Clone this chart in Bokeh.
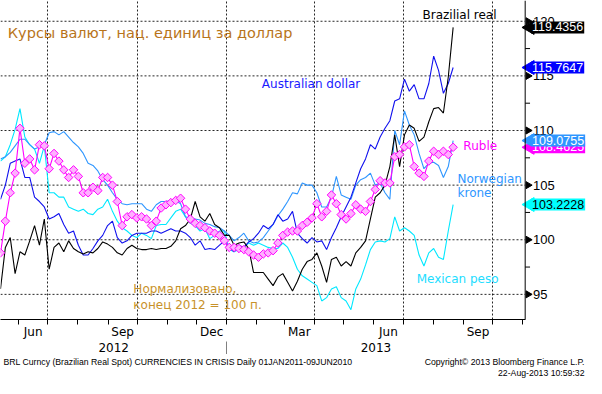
import math
import pandas as pd
from bokeh.plotting import figure
from bokeh.layouts import column
from bokeh.models import (Range1d, LinearAxis, FixedTicker, Grid, Label, Span,
                          ColumnDataSource, CustomJSTickFormatter)
from bokeh.core.properties import value
from bokeh.embed import file_html
from bokeh.resources import INLINE

FONT = "DejaVu Sans"
NUMFONT = "Liberation Sans"

# ---------------- data (normalised, end-2012 = 100) ----------------
start = "2012-05-13 12:00"
dates = pd.date_range(start, periods=94, freq="5D")

brl = [95.5, 99.3, 100.2, 96.9, 98.9, 98.6, 99.9, 101.3, 99.5, 101.9,
       97.3, 99.3, 99.7, 98.9, 99.9, 99.2, 98.9, 98.7, 98.9, 98.8,
       99.2, 99.8, 99.6, 99.3, 98.8, 98.6, 99.2, 99.5, 99.2, 99.1,
       99.1, 99.2, 99.1, 99.2, 99.2, 99.4, 99.9, 101.0, 101.3, 101.9,
       103.5, 102.1, 101.7, 102.4, 101.4, 101.1, 100.4, 100.4, 99.5, 99.7,
       99.8, 99.2, 97.0, 97.0, 97.0, 96.4, 95.8, 96.6, 96.9, 96.1,
       95.3, 96.2, 97.3, 98.0, 98.2, 98.8, 97.6, 96.1, 98.2, 98.4,
       97.6, 98.0, 97.6, 98.8, 99.3, 99.9, 101.9, 103.9, 104.3, 105.0,
       106.7, 109.6, 106.7, 109.6, 110.5, 110.2, 109.0, 109.4, 110.8, 112.0,
       112.1, 111.6, 114.9, 119.4356]

aud = [103.7, 105.0, 107.0, 107.2, 107.4, 105.7, 105.7, 103.9, 103.5, 103.0,
       101.9, 102.1, 102.4, 101.4, 100.6, 100.8, 99.5, 98.6, 98.6, 99.2,
       99.9, 100.4, 101.3, 101.7, 100.2, 99.7, 99.9, 100.4, 100.6, 100.6,
       100.6, 100.8, 100.8, 100.6, 100.8, 101.0, 100.8, 100.8, 100.6, 100.2,
       99.5, 99.9, 99.1, 99.2, 99.1, 99.5, 99.9, 99.3, 98.9, 99.5,
       99.3, 99.8, 100.1, 100.6, 101.3, 101.0, 101.4, 102.3, 101.7, 101.9,
       102.6, 100.6, 100.1, 99.7, 100.2, 99.8, 99.9, 99.1, 100.2, 101.1,
       102.1, 103.0, 103.9, 105.2, 106.5, 107.4, 108.7, 108.3, 109.4, 110.2,
       110.9, 112.7, 112.9, 114.7, 113.6, 114.2, 112.9, 112.9, 114.3, 116.8,
       115.5, 113.4, 114.3, 115.7647]

nok = [107.4, 107.6, 108.0, 108.6, 109.2, 109.2, 108.7, 108.3, 108.5, 108.7,
       109.8, 109.9, 109.6, 109.9, 109.4, 108.9, 108.5, 107.9, 107.0, 106.8,
       106.3, 105.5, 105.0, 104.3, 103.7, 103.3, 103.2, 103.3, 103.3, 103.3,
       102.8, 102.6, 103.2, 103.5, 103.5, 103.6, 103.6, 103.3, 102.1, 102.0,
       101.9, 101.8, 101.5, 101.4, 101.2, 101.1, 100.8, 100.4, 99.9, 100.2,
       100.6, 99.9, 99.7, 99.8, 100.2, 100.8, 101.4, 102.2, 102.8, 103.5,
       104.3, 104.2, 105.2, 105.0, 105.0, 104.3, 103.0, 103.0, 103.9, 105.8,
       104.1, 103.9, 103.7, 105.0, 105.5, 105.7, 106.1, 105.0, 105.2, 104.3,
       103.7, 110.0, 108.7, 111.8, 110.5, 109.6, 107.9, 106.5, 107.0, 107.1,
       106.8, 105.7, 106.7, 109.0755]

mxn = [107.2, 107.6, 108.7, 110.1, 112.0, 109.4, 108.7, 108.3, 107.0, 108.6,
       104.3, 104.3, 103.9, 103.9, 103.0, 102.8, 102.6, 102.8, 102.4, 102.3,
       102.8, 103.0, 103.7, 102.6, 101.7, 101.1, 100.8, 100.4, 100.2, 100.6,
       100.4, 100.1, 101.3, 101.4, 101.4, 102.0, 102.6, 102.8, 102.1, 101.5,
       101.3, 100.8, 101.0, 100.1, 100.4, 100.8, 100.8, 99.1, 98.9, 99.1,
       99.3, 99.7, 99.5, 99.7, 99.5, 99.3, 99.2, 99.2, 99.7, 99.3,
       98.4, 97.3, 96.7, 96.4, 96.1, 95.8, 94.4, 94.7, 95.5, 95.7,
       94.7, 94.4, 93.6, 95.5, 96.4, 97.7, 99.1, 99.8, 99.9, 99.8,
       100.1, 102.1, 100.8, 101.1, 100.8, 100.4, 98.6, 97.6, 98.8, 99.2,
       98.4, 98.2, 100.8, 103.2228]

rub = [98.8, 101.7, 104.3, 106.1, 110.2, 107.0, 107.4, 106.4, 108.7, 108.6,
       106.5, 107.9, 107.2, 106.4, 105.7, 106.4, 105.8, 104.3, 104.3, 104.8,
       104.5, 105.7, 105.7, 105.0, 103.5, 101.3, 102.1, 102.3, 102.0, 102.1,
       101.9, 101.3, 101.7, 102.9, 103.2, 103.4, 103.6, 103.8, 102.8, 101.9,
       101.5, 101.3, 101.1, 100.8, 100.6, 100.4, 99.9, 99.3, 99.3, 99.2,
       99.1, 98.9, 98.6, 98.4, 98.7, 98.8, 99.0, 99.7, 100.4, 100.7,
       100.8, 100.8, 101.3, 101.6, 102.0, 103.3, 102.1, 102.6, 104.1, 103.3,
       102.3, 101.9, 102.4, 103.2, 102.8, 102.6, 103.5, 104.6, 105.4, 105.2,
       105.2, 107.6, 107.8, 108.5, 108.7, 106.7, 106.1, 105.8, 107.2, 108.1,
       107.8, 108.1, 107.8, 108.4625]

y_ticks = [95, 100, 105, 110, 115, 120]
y_minor = [97.5, 102.5, 107.5, 112.5, 117.5]
quarter_starts = ["2012-07-01", "2012-10-01", "2013-01-01", "2013-04-01",
                  "2013-07-01", "2013-10-01"]
labelled_months = ["2012-06-01", "2012-09-01", "2012-12-01", "2013-03-01",
                   "2013-06-01", "2013-09-01"]

C_BRL, C_AUD, C_NOK, C_MXN, C_RUB = "#000000", "#1010EE", "#2E96FF", "#00E8FF", "#FF00FF"


def ms(s):
    return pd.Timestamp(s).value / 1e6


DAY = 86400000.0
x0 = ms(start)
x_axis = x0 + 539 * DAY          # position of the value axis
x1 = x0 + 602 * DAY              # right edge (room for value tags)

p = figure(width=586, height=354, output_backend="svg", toolbar_location=None,
           x_axis_type=None, y_axis_type=None,
           x_range=Range1d(x0, x1), y_range=Range1d(92.7, 121.9),
           min_border_left=0, min_border_right=0, min_border_top=0,
           min_border_bottom=0)
p.outline_line_color = None
p.background_fill_color = "white"
p.border_fill_color = "white"

# vertical grid at quarter starts
qt = FixedTicker(ticks=[ms(d) for d in quarter_starts])
p.add_layout(Grid(dimension=0, ticker=qt, grid_line_color="black",
                  grid_line_dash="2 2", grid_line_alpha=0.85))

# horizontal grid, stopping at the value axis
n = len(y_ticks)
p.segment(x0=[x0] * n, x1=[x_axis] * n, y0=y_ticks, y1=y_ticks,
          line_color="black", line_dash="2 2", line_alpha=0.85, line_width=1)

# month axis
bounds = pd.date_range("2012-06-01", "2013-11-01", freq="MS")
mids = []
for m in labelled_months:
    a = pd.Timestamp(m)
    b = a + pd.offsets.MonthBegin(1)
    mids.append((ms(a) + ms(b)) / 2)
month_fmt = CustomJSTickFormatter(code="""
return ['Jan','Feb','Mar','Apr','May','Jun','Jul','Aug','Sep','Oct','Nov','Dec'][new Date(tick).getUTCMonth()];
""")
xa = LinearAxis(ticker=FixedTicker(ticks=mids, minor_ticks=[ms(b) for b in bounds]),
                formatter=month_fmt, axis_line_color="black", bounds=(x0, x_axis),
                major_tick_out=0, major_tick_in=0, minor_tick_out=5, minor_tick_in=0,
                minor_tick_line_color="black", major_label_standoff=0,
                major_label_text_font=FONT, major_label_text_font_size="12px",
                major_label_text_color="black")
p.add_layout(xa, "below")

# year axis
jan13 = ms("2013-01-01")
year_fmt = CustomJSTickFormatter(code="return String(new Date(tick).getUTCFullYear());")
ya = LinearAxis(ticker=FixedTicker(ticks=[(x0 + jan13) / 2, (jan13 + x_axis) / 2],
                                   minor_ticks=[jan13]),
                formatter=year_fmt, axis_line_color=None,
                major_tick_out=0, major_tick_in=0, minor_tick_out=17, minor_tick_in=0,
                minor_tick_line_color="#808080", major_label_standoff=-16,
                major_label_text_font=FONT, major_label_text_font_size="12px",
                major_label_text_color="black")
p.add_layout(ya, "below")

# series
src = ColumnDataSource(dict(date=dates, brl=brl, aud=aud, nok=nok, mxn=mxn, rub=rub))
p.line("date", "mxn", source=src, line_color=C_MXN, line_width=1.1)
p.line("date", "nok", source=src, line_color=C_NOK, line_width=1.1)
p.line("date", "aud", source=src, line_color=C_AUD, line_width=1.1)
p.line("date", "brl", source=src, line_color=C_BRL, line_width=1.1)
p.line("date", "rub", source=src, line_color=C_RUB, line_width=1.1)
p.scatter("date", "rub", source=src, marker="square", angle=0.785398, size=6,
          line_color=C_RUB, fill_color="#FFB0FF", line_width=1)

# value axis on the right (drawn inside the frame so the tags can sit beside it)
p.add_layout(Span(location=x_axis, dimension="height", line_color="black", line_width=1))
p.scatter(x=[x_axis + 3 * DAY] * n, y=y_ticks, marker="triangle", angle=-math.pi / 2,
          size=7, fill_color="black", line_color="black")
m_ = len(y_minor)
p.segment(x0=[x_axis] * m_, x1=[x_axis + 5 * DAY] * m_, y0=y_minor, y1=y_minor,
          line_color="black", line_width=1)
p.text(x=[x_axis + 8 * DAY] * n, y=y_ticks, text=[str(t) for t in y_ticks],
       text_font=value(NUMFONT), text_font_size="13px", text_color="black",
       text_baseline="middle", text_align="left")

# last-value tags
tag_vals = [brl[-1], aud[-1], rub[-1], nok[-1], mxn[-1]]
tag_bg = ["#000000", "#0000FF", "#FF00FF", "#2E96FF", "#00FFFF"]
tag_fg = ["white", "white", "white", "white", "black"]
k = len(tag_vals)
tsrc = ColumnDataSource(dict(x=[x_axis + 6 * DAY] * k, xa=[x_axis + 5 * DAY] * k,
                             y=tag_vals, text=[f"{v:.4f}" for v in tag_vals],
                             bg=tag_bg, fg=tag_fg))
p.scatter("xa", "y", source=tsrc, marker="triangle", angle=math.pi / 2, size=14,
          fill_color="bg", line_color="bg")
p.text("x", "y", text="text", source=tsrc, text_color="fg", background_fill_color="bg",
       text_font=value(NUMFONT), text_font_size="12.5px", text_baseline="middle",
       text_align="left", padding=(1, 1, 1, 2))


def lab(x, y, text, color, size="12px"):
    p.add_layout(Label(x=ms(x), y=y, text=text, text_color=color, text_font=FONT,
                       text_font_size=size, text_baseline="middle", text_align="left"))


lab("2012-05-21", 118.9, "Курсы валют, нац. единиц за доллар", "#B8741A", size="14.5px")
lab("2013-07-21", 120.6, "Brazilial real", C_BRL)
lab("2013-02-06", 114.3, "Australian dollar", "#1A1AFF")
lab("2013-09-01", 108.56, "Ruble", C_RUB)
lab("2013-08-26", 105.56, "Norwegian", C_NOK)
lab("2013-08-26", 104.24, "krone", C_NOK)
lab("2013-07-15", 96.4, "Mexican peso", "#22DDFF")
lab("2012-09-27", 95.5, "Нормализовано,", "#C8922A")
lab("2012-09-27", 94.0, "конец 2012 = 100 п.", "#C8922A")

# footer strip
f = figure(width=586, height=24, output_backend="svg", toolbar_location=None,
           x_axis_type=None, y_axis_type=None,
           x_range=Range1d(0, 586), y_range=Range1d(0, 24),
           min_border_left=0, min_border_right=0, min_border_top=0, min_border_bottom=0)
f.outline_line_color = None
FF = value("Liberation Sans")
f.text(x=[3], y=[17], text=["BRL Curncy (Brazilian Real Spot) CURRENCIES IN CRISIS  Daily 01JAN2011-09JUN2010"],
       text_font=FF, text_font_size="8.7px", text_color="black",
       text_baseline="middle", text_align="left")
f.text(x=[584, 584], y=[17, 6],
       text=["Copyright© 2013 Bloomberg Finance L.P.", "22-Aug-2013 10:59:32"],
       text_font=FF, text_font_size="8.7px", text_color="black",
       text_baseline="middle", text_align="right")

open("out.html", "w").write(file_html(column(p, f), INLINE))
